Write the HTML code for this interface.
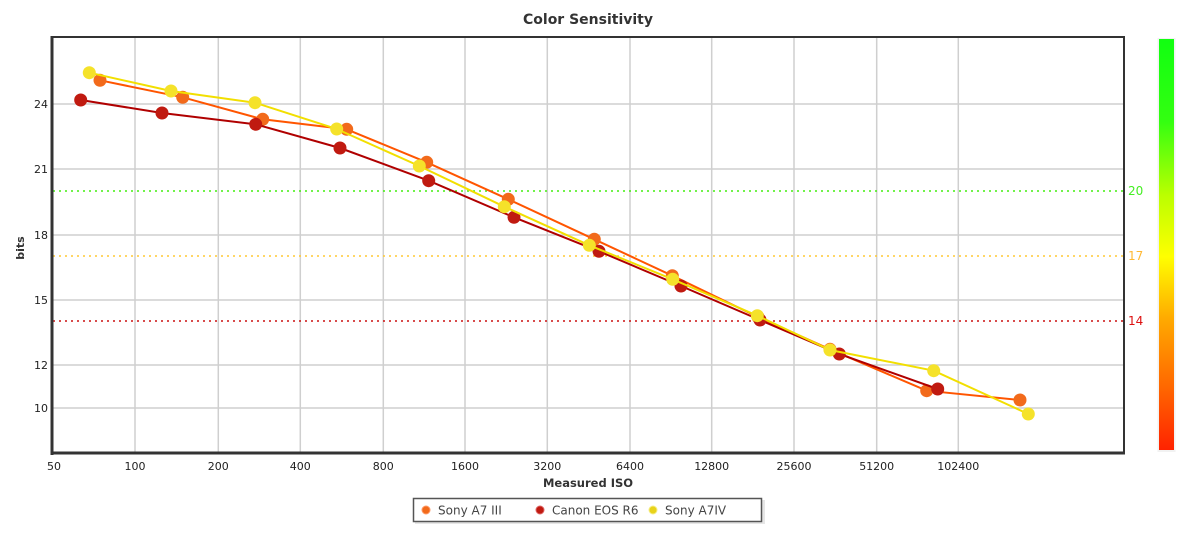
<!DOCTYPE html>
<html><head><meta charset="utf-8"><style>
html,body{margin:0;padding:0;background:#fff;}
svg{display:block;font-family:"DejaVu Sans","Liberation Sans",sans-serif;}
</style></head><body>
<svg width="1200" height="537" viewBox="0 0 1200 537" xmlns="http://www.w3.org/2000/svg">
<defs>
<linearGradient id="cb" x1="0" y1="0" x2="0" y2="1">
<stop offset="0" stop-color="#11ff11"/>
<stop offset="0.2" stop-color="#33ff11"/>
<stop offset="0.38" stop-color="#bbff00"/>
<stop offset="0.53" stop-color="#ffff00"/>
<stop offset="0.68" stop-color="#ffaa00"/>
<stop offset="0.85" stop-color="#ff6600"/>
<stop offset="1" stop-color="#ff2200"/>
</linearGradient>
</defs>
<rect width="1200" height="537" fill="#fff"/>
<text x="588" y="24" text-anchor="middle" font-size="14" font-weight="bold" fill="#333">Color Sensitivity</text>
<!-- grid -->
<g stroke="#cfcfcf" stroke-width="1.5">
<line x1="52" y1="104" x2="1124" y2="104"/>
<line x1="52" y1="169" x2="1124" y2="169"/>
<line x1="52" y1="235" x2="1124" y2="235"/>
<line x1="52" y1="300" x2="1124" y2="300"/>
<line x1="52" y1="365" x2="1124" y2="365"/>
<line x1="52" y1="408" x2="1124" y2="408"/>
<line x1="135" y1="37" x2="135" y2="453"/>
<line x1="218.3" y1="37" x2="218.3" y2="453"/>
<line x1="300.3" y1="37" x2="300.3" y2="453"/>
<line x1="383.3" y1="37" x2="383.3" y2="453"/>
<line x1="465" y1="37" x2="465" y2="453"/>
<line x1="547.3" y1="37" x2="547.3" y2="453"/>
<line x1="630" y1="37" x2="630" y2="453"/>
<line x1="711.7" y1="37" x2="711.7" y2="453"/>
<line x1="794" y1="37" x2="794" y2="453"/>
<line x1="876.7" y1="37" x2="876.7" y2="453"/>
<line x1="958.3" y1="37" x2="958.3" y2="453"/>
</g>
<!-- threshold lines -->
<line x1="53" y1="191" x2="1124" y2="191" stroke="#44ee11" stroke-width="1.5" stroke-dasharray="2,4"/>
<line x1="53" y1="256" x2="1124" y2="256" stroke="#ffc933" stroke-width="1.5" stroke-dasharray="2,4"/>
<line x1="53" y1="321" x2="1124" y2="321" stroke="#cc1111" stroke-width="1.5" stroke-dasharray="2,4"/>
<text x="1128" y="195" font-size="12" fill="#44ee22">20</text>
<text x="1128" y="260" font-size="12" fill="#ffb833">17</text>
<text x="1128" y="325" font-size="12" fill="#dd1111">14</text>
<!-- frame -->
<line x1="52" y1="37" x2="1125" y2="37" stroke="#333" stroke-width="2"/>
<line x1="1124" y1="37" x2="1124" y2="454" stroke="#333" stroke-width="2"/>
<line x1="52" y1="36" x2="52" y2="455" stroke="#333" stroke-width="3"/>
<line x1="51" y1="453" x2="1125" y2="453" stroke="#333" stroke-width="3"/>
<!-- y labels -->
<g font-size="11" fill="#222" text-anchor="end">
<text x="48" y="108">24</text>
<text x="48" y="173">21</text>
<text x="48" y="239">18</text>
<text x="48" y="304">15</text>
<text x="48" y="369">12</text>
<text x="48" y="412">10</text>
</g>
<text transform="translate(24,248) rotate(-90)" text-anchor="middle" font-size="11" font-weight="bold" fill="#333">bits</text>
<!-- x labels -->
<g font-size="11" fill="#222" text-anchor="middle">
<text x="54" y="470">50</text>
<text x="135" y="470">100</text>
<text x="218.3" y="470">200</text>
<text x="300.3" y="470">400</text>
<text x="383.3" y="470">800</text>
<text x="465" y="470">1600</text>
<text x="547.3" y="470">3200</text>
<text x="630" y="470">6400</text>
<text x="711.7" y="470">12800</text>
<text x="794" y="470">25600</text>
<text x="876.7" y="470">51200</text>
<text x="958.3" y="470">102400</text>
</g>
<text x="588" y="487" text-anchor="middle" font-size="11.5" font-weight="bold" fill="#333">Measured ISO</text>
<!-- series: Sony A7 III -->
<polyline fill="none" stroke="#ff5500" stroke-width="2" points="100,80.3 182.7,97.3 262.7,119.3 346.7,129.3 426.7,162.3 508.3,199.3 594.3,239.3 672.3,275.7 758,317 830,349.3 926.7,390.7 1020,400"/>
<g fill="#f26a1b">
<circle cx="100" cy="80.3" r="6.5"/><circle cx="182.7" cy="97.3" r="6.5"/><circle cx="262.7" cy="119.3" r="6.5"/><circle cx="346.7" cy="129.3" r="6.5"/><circle cx="426.7" cy="162.3" r="6.5"/><circle cx="508.3" cy="199.3" r="6.5"/><circle cx="594.3" cy="239.3" r="6.5"/><circle cx="672.3" cy="275.7" r="6.5"/><circle cx="758" cy="317" r="6.5"/><circle cx="830" cy="349.3" r="6.5"/><circle cx="926.7" cy="390.7" r="6.5"/><circle cx="1020" cy="400" r="6.5"/>
</g>
<!-- Canon EOS R6 -->
<polyline fill="none" stroke="#b00000" stroke-width="2" points="80.7,100 162,113 255.7,124.3 340,148 428.7,180.7 514,217.3 599,251.3 681,286 760,320 839.3,354 937.7,389"/>
<g fill="#c01a10">
<circle cx="80.7" cy="100" r="6.5"/><circle cx="162" cy="113" r="6.5"/><circle cx="255.7" cy="124.3" r="6.5"/><circle cx="340" cy="148" r="6.5"/><circle cx="428.7" cy="180.7" r="6.5"/><circle cx="514" cy="217.3" r="6.5"/><circle cx="599" cy="251.3" r="6.5"/><circle cx="681" cy="286" r="6.5"/><circle cx="760" cy="320" r="6.5"/><circle cx="839.3" cy="354" r="6.5"/><circle cx="937.7" cy="389" r="6.5"/>
</g>
<!-- Sony A7IV -->
<polyline fill="none" stroke="#f2df00" stroke-width="2" points="89.3,72.7 171,91 255,102.7 336.7,129 419.3,166 504.3,206.7 589.3,245.3 672.7,279.3 757.3,315.7 830,350 933.7,370.7 1028.3,414"/>
<g fill="#f5e22a">
<circle cx="89.3" cy="72.7" r="6.5"/><circle cx="171" cy="91" r="6.5"/><circle cx="255" cy="102.7" r="6.5"/><circle cx="336.7" cy="129" r="6.5"/><circle cx="419.3" cy="166" r="6.5"/><circle cx="504.3" cy="206.7" r="6.5"/><circle cx="589.3" cy="245.3" r="6.5"/><circle cx="672.7" cy="279.3" r="6.5"/><circle cx="757.3" cy="315.7" r="6.5"/><circle cx="830" cy="350" r="6.5"/><circle cx="933.7" cy="370.7" r="6.5"/><circle cx="1028.3" cy="414" r="6.5"/>
</g>
<!-- colorbar -->
<rect x="1157.5" y="38" width="18" height="414" fill="#f2f2f2"/>
<rect x="1159" y="39" width="15" height="411" fill="url(#cb)"/>
<!-- legend -->
<rect x="415" y="500" width="350" height="24" fill="#e6e6e6"/>
<rect x="413.5" y="498.5" width="348" height="23" fill="#fff" stroke="#555" stroke-width="1.5"/>
<circle cx="426" cy="510" r="4" fill="#f26a1b" stroke="#ff9966" stroke-width="1"/>
<circle cx="540" cy="510" r="4" fill="#c01a10" stroke="#dd6666" stroke-width="1"/>
<circle cx="653" cy="510" r="4" fill="#e8d21a" stroke="#f5ee88" stroke-width="1"/>
<g font-size="12" fill="#444">
<text x="438" y="514.5">Sony A7 III</text>
<text x="552" y="514.5">Canon EOS R6</text>
<text x="665" y="514.5">Sony A7IV</text>
</g>
</svg>
</body></html>
